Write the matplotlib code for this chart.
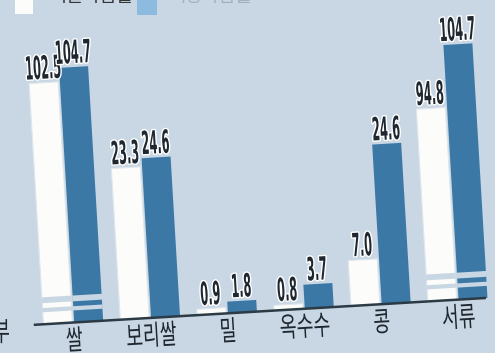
import numpy as np
import matplotlib.pyplot as plt
import matplotlib.patheffects as pe
from matplotlib.patches import Rectangle
from matplotlib.transforms import Affine2D

# 품목별 자급률 (%)
categories = ['쌀', '보리쌀', '밀', '옥수수', '콩', '서류']
grain = [102.5, 23.3, 0.9, 0.8, 7.0, 94.8]    # 흰 막대
food = [104.7, 24.6, 1.8, 3.7, 24.6, 104.7]   # 파란 막대
legend_labels = ['곡물자급률', '식량자급률']

bg = '#c8d7e3'
blue = '#3b78a6'
white = '#fcfcfa'
ink = '#1f2830'
kr_font = ['Noto Sans CJK KR', 'DejaVu Sans']


# 장체(좁은 글자) 효과: 글자 외곽선을 가로로만 줄임
class Squeeze(pe.AbstractPathEffect):
    def __init__(self, sx, inner, anchor='center'):
        super().__init__()
        self.sx = sx
        self.inner = inner
        self.anchor = anchor

    def draw_path(self, renderer, gc, tpath, affine, rgbFace=None):
        ext = tpath.get_extents()
        cx = ext.x1 if self.anchor == 'right' else (ext.x0 + ext.x1) / 2
        sq = Affine2D().translate(-cx, 0).scale(self.sx, 1).translate(cx, 0)
        self.inner.draw_path(renderer, gc, tpath, sq + affine, rgbFace)


num_fx = [Squeeze(0.355, pe.withStroke(linewidth=2, foreground='white'))]
kr_fx = [Squeeze(0.66, pe.Normal())]

# 물결 생략 축: 값 -> 기준선 위 픽셀 높이
brk_v = [-100, 0, 26, 92, 130]
brk_h = [-650, 0, 169, 175, 414.4]

def fwd(v):
    return np.interp(v, brk_v, brk_h)

def inv(h):
    return np.interp(h, brk_h, brk_v)

fig = plt.figure(figsize=(4.95, 3.53), dpi=100, facecolor=bg)
ax = fig.add_axes([0, 41 / 353, 1, 312 / 353])
ax.set_facecolor(bg)
ax.axis('off')
ax.set_yscale('function', functions=(fwd, inv))

x = np.arange(len(categories))
w = 0.377
off = 0.2
ax.bar(x - off, grain, w, color=white, edgecolor='#dfe7ed', lw=0.8)
ax.bar(x + off, food, w, color=blue)

# 생략 표시 (긴 막대만)
gaps = [(1.85, 2.5), (3.25, 4.15)]
for xs, vals in [(x - off, grain), (x + off, food)]:
    for xx, v in zip(xs, vals):
        if v > brk_v[3]:
            for g0, g1 in gaps:
                ax.bar(xx, g1 - g0, w + 0.01, bottom=g0, color=bg)

ax.axhline(0, 0.07, 0.98, color='#2b3a44', lw=1.8)

for xs, vals in [(x - off, grain), (x + off, food)]:
    for xx, v in zip(xs, vals):
        ax.text(xx, inv(fwd(v) + 4), f'{v:.1f}', ha='center', va='baseline',
                fontsize=23, family='DejaVu Sans', weight='bold', color=ink,
                path_effects=num_fx)

for i, c in enumerate(categories):
    ax.text(i, inv(-4), c, ha='center', va='top', fontsize=20,
            family=kr_font, weight='medium', color=ink, path_effects=kr_fx)

ax.set_xlim(-73 / 77, 422 / 77)
ax.set_ylim(0, inv(312))

# 이미지가 살짝 기울어져 있음
ang = 3.4
rot = Affine2D().rotate_deg_around(250, 41, ang)
for p in ax.patches:
    p.set_transform(p.get_data_transform() + rot)
    p.set_clip_on(False)
for l in ax.lines:
    l.set_transform(l.get_transform() + rot)
    l.set_clip_on(False)
for t in ax.texts:
    t.set_transform(t.get_transform() + rot)
    t.set_rotation(ang)
    t.set_rotation_mode('anchor')

# 범례 (위쪽이 잘려 있음)
fig.add_artist(Rectangle((15 / 495, 339 / 353), 18 / 495, 20 / 353,
                         transform=fig.transFigure, facecolor=white, lw=0))
fig.add_artist(Rectangle((137 / 495, 338 / 353), 20 / 495, 20 / 353,
                         transform=fig.transFigure, facecolor='#8dbbe0', lw=0))
fig.text(50 / 495, 347 / 353, legend_labels[0], fontsize=13, family=kr_font,
         color='#333333', va='bottom')
fig.text(170 / 495, 347 / 353, legend_labels[1], fontsize=13, family=kr_font,
         color='#a0b0be', va='bottom')

fig.text(10 / 495, 20 / 353, '농림축산식품부', fontsize=20, family=kr_font,
         weight='medium', color=ink, ha='right', va='center',
         path_effects=[Squeeze(0.66, pe.Normal(), anchor='right')])

fig.savefig('out.png', dpi=100, facecolor=bg)
